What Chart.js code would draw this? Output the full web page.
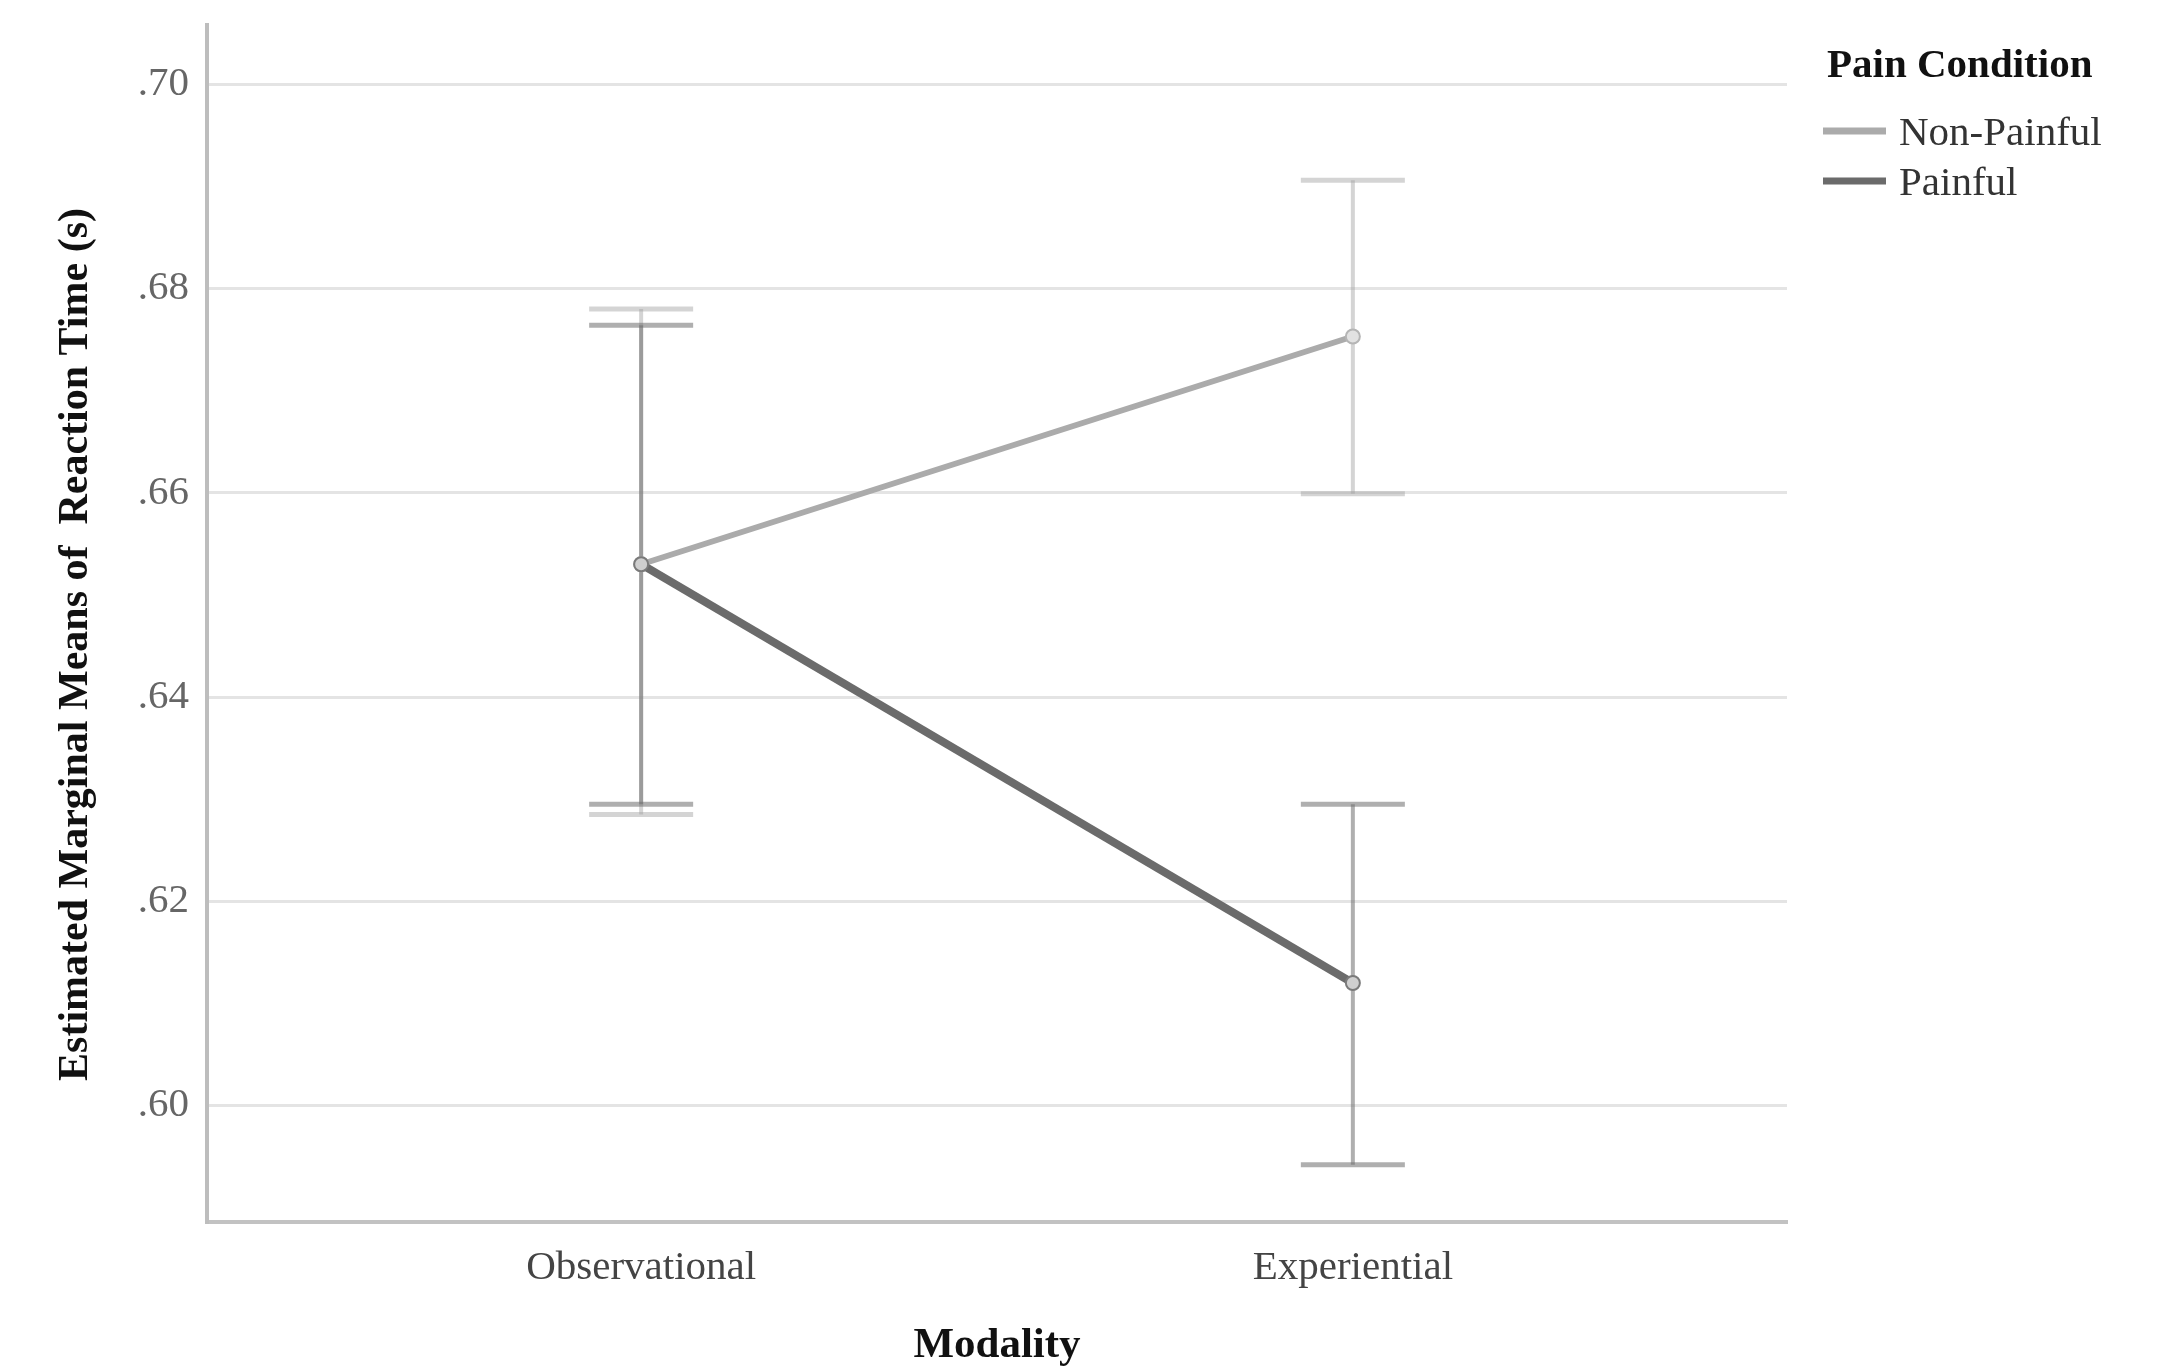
<!DOCTYPE html>
<html>
<head>
<meta charset="utf-8">
<script src="https://cdn.jsdelivr.net/npm/chart.js@4.4.0/dist/chart.umd.min.js"></script>
<style>
  html, body { margin: 0; padding: 0; background: #fff; }
</style>
</head>
<body>
<canvas id="my-chart" width="2162" height="1367"></canvas>
<script>
// values
const modality = ['Observational', 'Experiential'];
const seriesNames = ['Non-Painful', 'Painful'];
const nonPainfulMeans = [0.6530, 0.6753];
const nonPainfulLower = [0.6285, 0.6599];
const nonPainfulUpper = [0.6780, 0.6906];
const painfulMeans = [0.6530, 0.6120];
const painfulLower = [0.6295, 0.5942];
const painfulUpper = [0.6764, 0.6295];
const yTicks = [0.60, 0.62, 0.64, 0.66, 0.68, 0.70];

const serif = 'Liberation Serif';

function toPoints(values) {
   return values.map((v, i) => ({ x: i, y: v }));
}

// error bars drawn under the lines
const errorBars = {
   id: 'errorBars',
   beforeDatasetsDraw(chart) {
      const ctx = chart.ctx;
      const xs = chart.scales.x;
      const ys = chart.scales.y;
      ctx.save();
      chart.data.datasets.forEach(ds => {
         ds.data.forEach((pt, i) => {
            const px = xs.getPixelForValue(pt.x);
            const top = ys.getPixelForValue(ds.upper[i]);
            const bot = ys.getPixelForValue(ds.lower[i]);
            ctx.strokeStyle = ds.barColor;
            ctx.lineWidth = 4;
            ctx.beginPath();
            ctx.moveTo(px, top);
            ctx.lineTo(px, bot);
            ctx.stroke();
            ctx.lineWidth = 5;
            ctx.beginPath();
            ctx.moveTo(px - 52, top);
            ctx.lineTo(px + 52, top);
            ctx.moveTo(px - 52, bot);
            ctx.lineTo(px + 52, bot);
            ctx.stroke();
         });
      });
      ctx.restore();
   }
};

// legend on the right, with its title
const sideLegend = {
   id: 'sideLegend',
   afterDraw(chart) {
      const ctx = chart.ctx;
      const x0 = chart.chartArea.right + 36;
      ctx.save();
      ctx.textBaseline = 'middle';
      ctx.textAlign = 'left';
      ctx.fillStyle = '#111';
      ctx.font = 'bold 41px "' + serif + '"';
      ctx.fillText('Pain Condition', x0 + 4, 66);
      chart.data.datasets.forEach((ds, i) => {
         const y = 131 + i * 50;
         ctx.strokeStyle = ds.borderColor;
         ctx.lineWidth = 7;
         ctx.beginPath();
         ctx.moveTo(x0, y);
         ctx.lineTo(x0 + 63, y);
         ctx.stroke();
         ctx.fillStyle = '#333';
         ctx.font = '41px "' + serif + '"';
         ctx.fillText(ds.label, x0 + 76, y + 3);
      });
      ctx.restore();
   }
};

const ctx = document.getElementById('my-chart').getContext('2d');

const chart = new Chart(ctx, {
   type: 'line',
   data: {
      datasets: [
         {
            label: seriesNames[0],
            data: toPoints(nonPainfulMeans),
            lower: nonPainfulLower,
            upper: nonPainfulUpper,
            borderColor: '#ababab',
            borderWidth: 6,
            barColor: 'rgba(160,160,160,0.45)',
            pointRadius: 7,
            pointBackgroundColor: '#e2e2e2',
            pointBorderColor: '#b5b5b5',
            pointBorderWidth: 2,
            order: 2
         },
         {
            label: seriesNames[1],
            data: toPoints(painfulMeans),
            lower: painfulLower,
            upper: painfulUpper,
            borderColor: '#6b6b6b',
            borderWidth: 8,
            barColor: 'rgba(110,110,110,0.55)',
            pointRadius: 7,
            pointBackgroundColor: '#cfcfcf',
            pointBorderColor: '#7a7a7a',
            pointBorderWidth: 2,
            order: 1
         }
      ]
   },
   options: {
      responsive: false,
      animation: false,
      devicePixelRatio: 1,
      layout: { padding: { top: 25, right: 375, left: 0, bottom: 0 } },
      plugins: {
         legend: { display: false },
         tooltip: { enabled: false }
      },
      scales: {
         x: {
            type: 'linear',
            min: -0.61,
            max: 1.61,
            afterBuildTicks: s => { s.ticks = modality.map((m, i) => ({ value: i })); },
            afterFit: s => { s.height = 145; s.paddingLeft = 0; s.paddingRight = 0; },
            ticks: {
               callback: v => modality[v],
               color: '#444',
               font: { family: serif, size: 41 },
               padding: 22,
               maxRotation: 0
            },
            grid: { display: false, drawTicks: false },
            border: { display: true, color: '#c2c2c2', width: 4 },
            title: {
               display: true,
               text: 'Modality',
               color: '#111',
               font: { family: serif, size: 43, weight: 'bold' },
               padding: { top: 0, bottom: -5 }
            }
         },
         y: {
            min: 0.5886,
            max: 0.7058,
            afterBuildTicks: s => { s.ticks = yTicks.map(v => ({ value: v })); },
            afterFit: s => { s.width = 207; s.paddingTop = 0; s.paddingBottom = 0; },
            ticks: {
               callback: v => v.toFixed(2).replace(/^0/, ''),
               color: '#666',
               font: { family: serif, size: 41 },
               padding: 18
            },
            grid: { color: '#e4e4e4', lineWidth: 3, drawTicks: false },
            border: { color: '#bdbdbd', width: 4 },
            title: {
               display: true,
               text: 'Estimated Marginal Means of  Reaction Time (s)    ',
               color: '#111',
               font: { family: serif, size: 42, weight: 'bold' },
               padding: { top: 51, bottom: 0 }
            }
         }
      }
   },
   plugins: [errorBars, sideLegend]
});
</script>
</body>
</html>
